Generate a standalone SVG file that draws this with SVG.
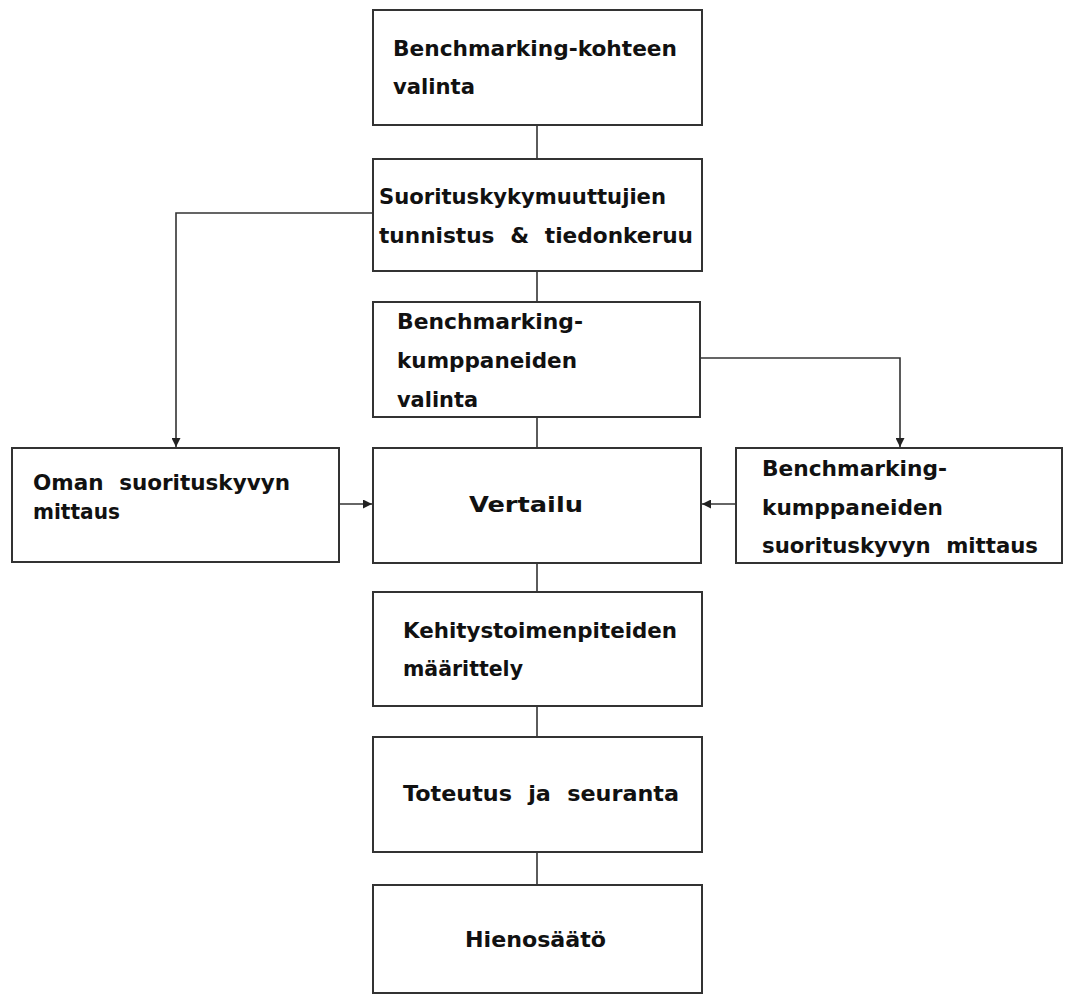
<svg xmlns="http://www.w3.org/2000/svg" width="1065" height="996" viewBox="0 0 1065 996">
<style>
.box{fill:#fff;stroke:#333;stroke-width:2}
.t{font-family:"DejaVu Sans","Liberation Sans",sans-serif;font-weight:bold;font-size:21px;fill:#111}
.w{word-spacing:8px}
.c{fill:none;stroke:#333;stroke-width:1.6}
</style>
<defs>
<marker id="ah" viewBox="0 0 10 10" refX="10" refY="5" markerWidth="10" markerHeight="9" markerUnits="userSpaceOnUse" orient="auto">
<path d="M0,0 L10,5 L0,10 z" fill="#222"/>
</marker>
</defs>
<rect width="1065" height="996" fill="#fff"/>
<g id="connectors">
<line class="c" x1="537" y1="125" x2="537" y2="159"/>
<line class="c" x1="537" y1="271" x2="537" y2="302"/>
<line class="c" x1="537" y1="417" x2="537" y2="448"/>
<line class="c" x1="537" y1="563" x2="537" y2="592"/>
<line class="c" x1="537" y1="706" x2="537" y2="737"/>
<line class="c" x1="537" y1="852" x2="537" y2="885"/>
<path class="c" d="M373,213 H176 V447" marker-end="url(#ah)"/>
<path class="c" d="M700,358 H900 V447" marker-end="url(#ah)"/>
<line class="c" x1="339" y1="504" x2="372" y2="504" marker-end="url(#ah)"/>
<line class="c" x1="736" y1="504" x2="702" y2="504" marker-end="url(#ah)"/>
</g>
<g id="n1">
<rect class="box" x="373" y="10" width="329" height="115"/>
<text class="t" x="393" y="56" textLength="284" lengthAdjust="spacingAndGlyphs">Benchmarking-kohteen</text>
<text class="t" x="393" y="94" textLength="82" lengthAdjust="spacingAndGlyphs">valinta</text>
</g>
<g id="n2">
<rect class="box" x="373" y="159" width="329" height="112"/>
<text class="t" x="379" y="204" textLength="287" lengthAdjust="spacingAndGlyphs">Suorituskykymuuttujien</text>
<text class="t w" x="379" y="243" textLength="314" lengthAdjust="spacingAndGlyphs">tunnistus &amp; tiedonkeruu</text>
</g>
<g id="n3">
<rect class="box" x="373" y="302" width="327" height="115"/>
<text class="t" x="397" y="329" textLength="186" lengthAdjust="spacingAndGlyphs">Benchmarking-</text>
<text class="t" x="397" y="368" textLength="180" lengthAdjust="spacingAndGlyphs">kumppaneiden</text>
<text class="t" x="397" y="407" textLength="81" lengthAdjust="spacingAndGlyphs">valinta</text>
</g>
<g id="n4">
<rect class="box" x="12" y="448" width="327" height="114"/>
<text class="t w" x="33" y="490" textLength="257" lengthAdjust="spacingAndGlyphs">Oman suorituskyvyn</text>
<text class="t" x="33" y="519" textLength="87" lengthAdjust="spacingAndGlyphs">mittaus</text>
</g>
<g id="n5">
<rect class="box" x="373" y="448" width="328" height="115"/>
<text class="t" x="469" y="512" textLength="114" lengthAdjust="spacingAndGlyphs">Vertailu</text>
</g>
<g id="n6">
<rect class="box" x="736" y="448" width="326" height="115"/>
<text class="t" x="762" y="476" textLength="185" lengthAdjust="spacingAndGlyphs">Benchmarking-</text>
<text class="t" x="762" y="515" textLength="181" lengthAdjust="spacingAndGlyphs">kumppaneiden</text>
<text class="t w" x="762" y="553" textLength="276" lengthAdjust="spacingAndGlyphs">suorituskyvyn mittaus</text>
</g>
<g id="n7">
<rect class="box" x="373" y="592" width="329" height="114"/>
<text class="t" x="403" y="638" textLength="274" lengthAdjust="spacingAndGlyphs">Kehitystoimenpiteiden</text>
<text class="t" x="403" y="676" textLength="120" lengthAdjust="spacingAndGlyphs">määrittely</text>
</g>
<g id="n8">
<rect class="box" x="373" y="737" width="329" height="115"/>
<text class="t w" x="403" y="801" textLength="276" lengthAdjust="spacingAndGlyphs">Toteutus ja seuranta</text>
</g>
<g id="n9">
<rect class="box" x="373" y="885" width="329" height="108"/>
<text class="t" x="465" y="947" textLength="141" lengthAdjust="spacingAndGlyphs">Hienosäätö</text>
</g>
</svg>
